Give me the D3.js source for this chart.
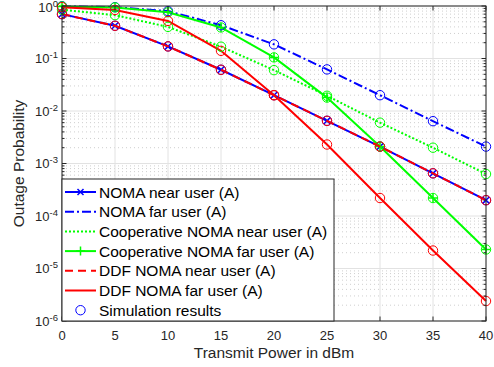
<!DOCTYPE html>
<html>
<head>
<meta charset="utf-8">
<script src="https://cdn.jsdelivr.net/npm/d3@7"></script>
<style>
  body { margin: 0; background: #fff; }
  text { font-family: "Liberation Sans", Arial, sans-serif; }
</style>
</head>
<body>
<div id="chart"></div>
<script>
// transmit power (dBm)
var power = [0, 5, 10, 15, 20, 25, 30, 35, 40];

var nomaNear  = [0.70, 0.42, 0.17, 0.061, 0.020, 0.0065, 0.0021, 0.00065, 0.00020];
var nomaFar   = [0.99, 0.95, 0.80, 0.43, 0.186, 0.062, 0.020, 0.0064, 0.0021];
var coopNear  = [0.85, 0.67, 0.40, 0.168, 0.060, 0.0195, 0.0060, 0.0020, 0.00063];
var coopFar   = [0.98, 0.94, 0.76, 0.39, 0.105, 0.018, 0.0021, 0.00022, 0.000023];
var ddfNear   = [0.70, 0.42, 0.17, 0.061, 0.020, 0.0065, 0.0021, 0.00065, 0.00020];
var ddfFar    = [0.95, 0.84, 0.52, 0.14, 0.020, 0.0023, 0.00022, 0.000022, 0.0000024];

var legendNames = ["NOMA near user (A)", "NOMA far user (A)", "Cooperative NOMA near user (A)",
  "Cooperative NOMA far user (A)", "DDF NOMA near user (A)", "DDF NOMA far user (A)", "Simulation results"];

var xTicks = [0, 5, 10, 15, 20, 25, 30, 35, 40];
var yExps = [0, -1, -2, -3, -4, -5, -6];

var W = 494, H = 367;
var margin = { top: 6, right: 8, bottom: 46, left: 62 };

var svg = d3.select("#chart").append("svg")
  .attr("width", W).attr("height", H);

var x = d3.scaleLinear().domain([0, 40]).range([margin.left, W - margin.right]);
var y = d3.scaleLog().domain([1e-6, 1]).range([H - margin.bottom, margin.top]);

var x0 = x(0), x1 = x(40), yT = y(1), yB = y(1e-6);

// minor y grid (dotted)
var minors = [];
yExps.slice(1).forEach(function(e) {
  for (var k = 2; k <= 9; k++) minors.push(k * Math.pow(10, e));
});
svg.append("g").selectAll("line").data(minors).enter().append("line")
  .attr("x1", x0).attr("x2", x1)
  .attr("y1", d => y(d)).attr("y2", d => y(d))
  .attr("stroke", "#cfcfcf").attr("stroke-width", 1)
  .attr("stroke-dasharray", "1,3");

// major grid
svg.append("g").selectAll("line").data(yExps).enter().append("line")
  .attr("x1", x0).attr("x2", x1)
  .attr("y1", d => y(Math.pow(10, d))).attr("y2", d => y(Math.pow(10, d)))
  .attr("stroke", "#e2e2e2");
svg.append("g").selectAll("line").data(xTicks).enter().append("line")
  .attr("x1", d => x(d)).attr("x2", d => x(d))
  .attr("y1", yT).attr("y2", yB)
  .attr("stroke", "#e2e2e2");

// series
var series = [
  { v: nomaNear, color: "#0000ff", dash: null, marker: "x" },
  { v: nomaFar, color: "#0000ff", dash: "9,3,2,3", marker: null },
  { v: coopNear, color: "#00ff00", dash: "2,2", marker: null },
  { v: coopFar, color: "#00ff00", dash: null, marker: "+" },
  { v: ddfNear, color: "#ff0000", dash: "8,5", marker: null },
  { v: ddfFar, color: "#ff0000", dash: null, marker: null }
];

var line = d3.line().x((d, i) => x(power[i])).y(d => y(d));

var plot = svg.append("g");
series.forEach(function(s) {
  plot.append("path")
    .attr("d", line(s.v))
    .attr("fill", "none")
    .attr("stroke", s.color)
    .attr("stroke-width", 2)
    .attr("stroke-dasharray", s.dash);
  if (s.marker) {
    var sz = 3.2;
    plot.append("g").selectAll("path").data(s.v).enter().append("path")
      .attr("d", function(d, i) {
        var cx = x(power[i]), cy = y(d);
        if (s.marker == "x")
          return "M" + (cx - sz) + "," + (cy - sz) + "L" + (cx + sz) + "," + (cy + sz) +
                 "M" + (cx - sz) + "," + (cy + sz) + "L" + (cx + sz) + "," + (cy - sz);
        return "M" + (cx - 4.5) + "," + cy + "L" + (cx + 4.5) + "," + cy +
               "M" + cx + "," + (cy - 4.5) + "L" + cx + "," + (cy + 4.5);
      })
      .attr("stroke", s.color).attr("stroke-width", 1.5);
  }
});

// simulation circles
series.forEach(function(s) {
  plot.append("g").selectAll("circle").data(s.v).enter().append("circle")
    .attr("cx", (d, i) => x(power[i]))
    .attr("cy", d => y(d))
    .attr("r", 4.7)
    .attr("fill", "none")
    .attr("stroke", s.color)
    .attr("stroke-width", 1);
});

// box and ticks
var axisColor = "#262626";
svg.append("rect")
  .attr("x", x0).attr("y", yT).attr("width", x1 - x0).attr("height", yB - yT)
  .attr("fill", "none").attr("stroke", axisColor).attr("stroke-width", 1);

var tk = svg.append("g").attr("stroke", axisColor).attr("stroke-width", 1);
xTicks.forEach(function(t) {
  tk.append("line").attr("x1", x(t)).attr("x2", x(t)).attr("y1", yB).attr("y2", yB - 4.5);
  tk.append("line").attr("x1", x(t)).attr("x2", x(t)).attr("y1", yT).attr("y2", yT + 4.5);
});
yExps.forEach(function(e) {
  var yy = y(Math.pow(10, e));
  tk.append("line").attr("x1", x0).attr("x2", x0 + 4.5).attr("y1", yy).attr("y2", yy);
  tk.append("line").attr("x1", x1).attr("x2", x1 - 4.5).attr("y1", yy).attr("y2", yy);
});
minors.forEach(function(m) {
  var yy = y(m);
  tk.append("line").attr("x1", x0).attr("x2", x0 + 2.5).attr("y1", yy).attr("y2", yy);
  tk.append("line").attr("x1", x1).attr("x2", x1 - 2.5).attr("y1", yy).attr("y2", yy);
});

// tick labels
svg.append("g").selectAll("text").data(xTicks).enter().append("text")
  .attr("x", d => x(d)).attr("y", yB + 19)
  .attr("text-anchor", "middle")
  .attr("font-size", 13).attr("fill", axisColor)
  .text(d => d);

var yl = svg.append("g").selectAll("text").data(yExps).enter().append("text")
  .attr("x", x0 - 4).attr("y", d => y(Math.pow(10, d)) + (d == 0 ? 6 : 4.5))
  .attr("text-anchor", "end")
  .attr("font-size", 13).attr("fill", axisColor);
yl.append("tspan").text("10");
yl.append("tspan").attr("font-size", 9.5).attr("dy", -5).text(d => d);

// axis labels
svg.append("text")
  .attr("x", (x0 + x1) / 2).attr("y", H - 9)
  .attr("text-anchor", "middle").attr("font-size", 15.5).attr("fill", axisColor)
  .text("Transmit Power in dBm");
svg.append("text")
  .attr("transform", "translate(" + 24 + "," + ((yT + yB) / 2) + ") rotate(-90)")
  .attr("text-anchor", "middle").attr("font-size", 15.5).attr("fill", axisColor)
  .text("Outage Probability");

// legend
var lg = svg.append("g");
var lgTop = 179, lgRight = 334, rowH = 19.7;
lg.append("rect")
  .attr("x", x0).attr("y", lgTop).attr("width", lgRight - x0).attr("height", yB - lgTop)
  .attr("fill", "#fff").attr("stroke", axisColor).attr("stroke-width", 1);

legendNames.forEach(function(name, i) {
  var cy = lgTop + 13 + i * rowH;
  if (i < 6) {
    var s = series[i];
    lg.append("line")
      .attr("x1", x0 + 3).attr("x2", x0 + 34).attr("y1", cy).attr("y2", cy)
      .attr("stroke", s.color).attr("stroke-width", 2)
      .attr("stroke-dasharray", s.dash);
    var mx = x0 + 18.5;
    if (s.marker == "x") {
      lg.append("path").attr("d", "M" + (mx - 3) + "," + (cy - 3) + "L" + (mx + 3) + "," + (cy + 3) +
        "M" + (mx - 3) + "," + (cy + 3) + "L" + (mx + 3) + "," + (cy - 3))
        .attr("stroke", s.color).attr("stroke-width", 1.5);
    } else if (s.marker == "+") {
      lg.append("path").attr("d", "M" + (mx - 4.5) + "," + cy + "L" + (mx + 4.5) + "," + cy +
        "M" + mx + "," + (cy - 4.5) + "L" + mx + "," + (cy + 4.5))
        .attr("stroke", s.color).attr("stroke-width", 1.5);
    }
  } else {
    lg.append("circle").attr("cx", x0 + 18.5).attr("cy", cy).attr("r", 4.7)
      .attr("fill", "none").attr("stroke", "#0000ff").attr("stroke-width", 1);
  }
  lg.append("text")
    .attr("x", x0 + 37).attr("y", cy + 5.5)
    .attr("font-size", 15.5).attr("fill", "#000")
    .text(name);
});
</script>
</body>
</html>
